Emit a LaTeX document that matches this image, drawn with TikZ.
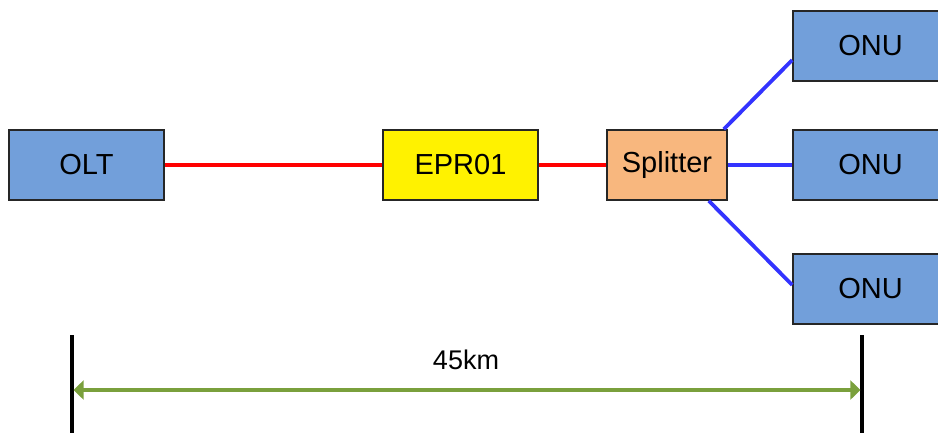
\documentclass[tikz,border=0pt]{standalone}
\usepackage{fontspec}
\setmainfont{Liberation Sans}
\usetikzlibrary{arrows.meta}
\definecolor{boxblue}{RGB}{114,159,218}
\definecolor{splorange}{RGB}{248,183,126}
\definecolor{linkblue}{RGB}{51,51,255}
\definecolor{dimgreen}{RGB}{122,160,60}
\begin{document}
\begin{tikzpicture}[x=1pt,y=-1pt,
  box/.style={draw=black!85,line width=1.6pt,minimum width=155pt,minimum height=70pt,inner sep=0pt,font=\fontsize{29}{34}\selectfont},
  redlink/.style={draw=red,line width=3.8pt},
  bluelink/.style={draw=linkblue,line width=3.8pt},
  tick/.style={draw=black,line width=3.3pt},
  dim/.style={draw=dimgreen,line width=3.8pt,{Triangle[length=10pt,width=19pt]}-{Triangle[length=10pt,width=19pt]},shorten <=1.6pt,shorten >=1.6pt}]
\useasboundingbox (0,0) rectangle (938,432);
\begin{scope}
\clip (0,0) rectangle (938,432);
\node[box,fill=boxblue] (olt) at (86.5,165) {OLT};
\node[box,fill=yellow] (epr) at (460.5,165) {EPR01};
\node[box,fill=splorange,minimum width=120pt] (spl) at (667,165) {\raisebox{-1pt}{Splitter}};
\node[box,fill=boxblue] (onu1) at (870.5,46) {ONU};
\node[box,fill=boxblue] (onu2) at (870.5,165) {ONU};
\node[box,fill=boxblue] (onu3) at (870.5,289) {ONU};
\draw[redlink] (olt.east) -- (epr.west);
\draw[redlink] (epr.east) -- (spl.west);
\draw[bluelink] (spl.north east) ++(-4,0) coordinate (s1) -- (onu1.west |- 0,60);
\draw[bluelink] (spl.east) -- (onu2.west);
\draw[bluelink] (spl.south east) ++(-19,0) coordinate (s3) -- (onu3.west |- 0,285);
\coordinate (lt) at (72,335);
\coordinate (lb) at (72,440);
\coordinate (rt) at (862,335);
\coordinate (rb) at (862,440);
\draw[tick] (lt) -- (lb);
\draw[tick] (rt) -- (rb);
\coordinate (al) at (72,390);
\coordinate (ar) at (862,390);
\draw[dim] (al) -- (ar);
\node[font=\fontsize{27}{32}\selectfont] (len) at (466,360) {45km};
\end{scope}
\end{tikzpicture}
\end{document}
